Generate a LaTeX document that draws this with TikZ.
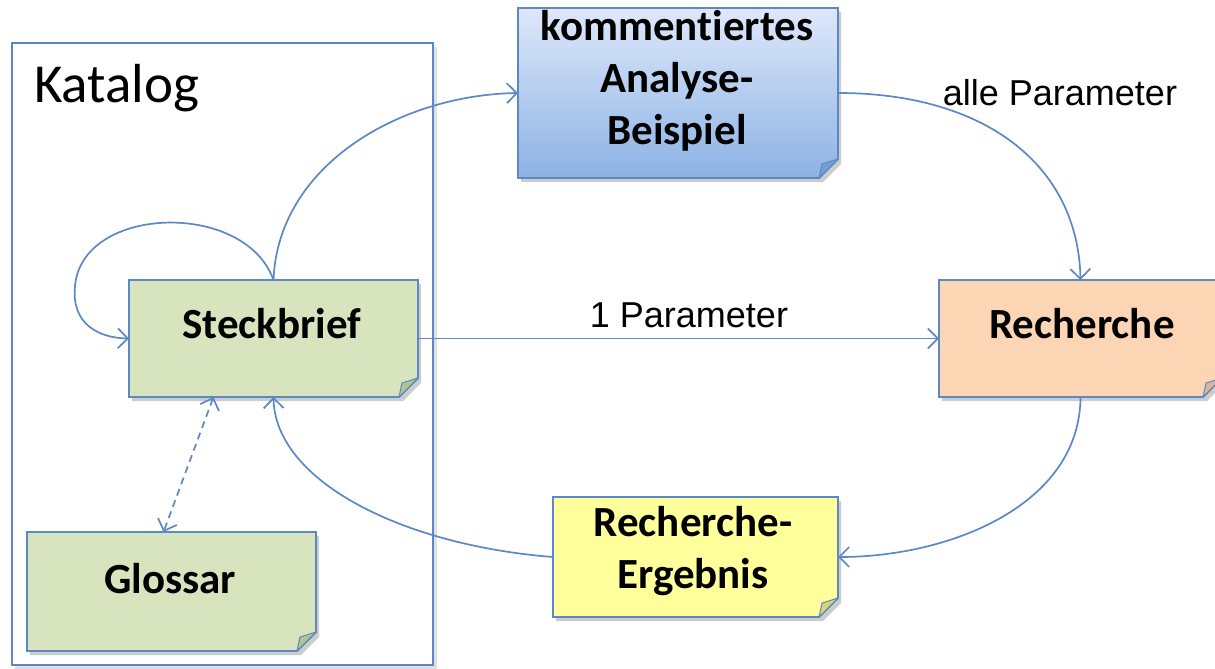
\documentclass[tikz,border=0pt]{standalone}
\usepackage{fontspec}
\setmainfont{Carlito}[Ligatures=NoCommon]
\newfontfamily\arialfont{Liberation Sans}
\usetikzlibrary{arrows.meta,backgrounds}
\definecolor{edge}{RGB}{92,136,196}
\definecolor{greenfill}{RGB}{215,228,189}
\definecolor{greenfold}{RGB}{178,196,146}
\definecolor{orangefill}{RGB}{252,213,181}
\definecolor{orangefold}{RGB}{222,180,148}
\definecolor{yellowfill}{RGB}{255,255,156}
\definecolor{yellowfold}{RGB}{214,214,120}
\definecolor{bluetop}{RGB}{222,232,251}
\definecolor{bluebottom}{RGB}{140,178,228}
\definecolor{bluefold}{RGB}{118,156,212}
\newcommand\drawnote[3]{%
  \fill[black,opacity=.2] ([xshift=3pt,yshift=-4pt]#1.north west) -- ([xshift=3pt,yshift=-4pt]#1.north east) -- ([xshift=3pt,yshift=14pt]#1.south east) -- ([xshift=-15pt,yshift=-4pt]#1.south east) -- ([xshift=3pt,yshift=-4pt]#1.south west) -- cycle;
  \path[#2,draw=edge,line width=1.8pt] (#1.north west) -- (#1.north east) -- ([yshift=19pt]#1.south east) -- ([xshift=-19pt]#1.south east) -- (#1.south west) -- cycle;
  \filldraw[fill=#3,draw=edge,line width=1pt,line join=round] ([yshift=19pt]#1.south east) -- ([xshift=-19pt]#1.south east) -- ([xshift=-16pt,yshift=14pt]#1.south east) -- cycle;
}
\begin{document}
\begin{tikzpicture}[x=1pt,y=-1pt,
  boxnode/.style={inner sep=0pt,outer sep=0pt},
  boxtext/.style={font=\fontsize{43}{52}\selectfont\bfseries,align=center,inner sep=0pt},
  lbl/.style={font=\arialfont\fontsize{36}{42}\selectfont,inner sep=0pt},
  arr/.style={draw=edge,line width=1.7pt,-{Straight Barb[length=10pt,width=20pt]}},
  darr/.style={draw=edge,line width=1.7pt,dash pattern=on 7pt off 5pt,{Straight Barb[length=10pt,width=20pt]}-{Straight Barb[length=10pt,width=20pt]}}]
\useasboundingbox (0,0) rectangle (1215,669);
% Katalog frame
\fill[black,opacity=.12] (15,47) rectangle (437,669);
\fill[white] (12,43) rectangle (433,665);
\node[boxnode,draw=edge,line width=2pt,minimum width=421pt,minimum height=622pt] (cat) at (222.5,354) {};
\node[anchor=base west,inner sep=0pt,font=\fontsize{55}{62}\selectfont] (cattitle) at (34,102) {Katalog};
% boxes
\node[boxnode,minimum width=289pt,minimum height=117pt] (s) at (273.5,338.5) {};
\node[boxnode,minimum width=289pt,minimum height=119pt] (g) at (171.5,591.5) {};
\node[boxnode,minimum width=320pt,minimum height=170pt] (k) at (678,93) {};
\node[boxnode,minimum width=283pt,minimum height=117pt] (r) at (1080.5,338.5) {};
\node[boxnode,minimum width=285pt,minimum height=120pt] (e) at (695.5,557) {};
\drawnote{s}{fill=greenfill}{greenfold}
\drawnote{g}{fill=greenfill}{greenfold}
\drawnote{k}{top color=bluetop,bottom color=bluebottom}{bluefold}
\drawnote{r}{fill=orangefill}{orangefold}
\drawnote{e}{fill=yellowfill}{yellowfold}
% texts
\node[boxtext,anchor=base] (st) at (272,338) {Steckbrief};
\node[boxtext,anchor=base] (gt) at (170,593) {Glossar};
\node[boxtext,anchor=base] (rt) at (1082,338) {Recherche};
\node[boxtext] (kt) at (677,81) {kommentiertes\\Analyse-\\Beispiel};
\node[boxtext] (et) at (693,551) {Recherche-\\Ergebnis};
% connectors
\draw[arr] (s.north) .. controls (278,165) and (400,95) .. (k.west);
\draw[arr] (s.north) .. controls (245,200) and (82,205) .. (75,286) .. controls (71,325) and (100,338) .. (s.west);
\draw[arr] (k.east) .. controls (985,93) and (1078,165) .. (r.north);
\draw[arr] (s.east) -- (r.west);
\draw[arr] (r.south) .. controls (1080,505) and (950,557) .. (e.east);
\draw[arr] (e.west) .. controls (400,545) and (275,480) .. (s.south);
\draw[darr] ([xshift=-60pt]s.south) -- ([xshift=-8pt]g.north);
% labels
\node[lbl] (l1) at (1060,93) {alle Parameter};
\node[lbl] (l2) at (689,315) {1 Parameter};
\end{tikzpicture}
\end{document}
